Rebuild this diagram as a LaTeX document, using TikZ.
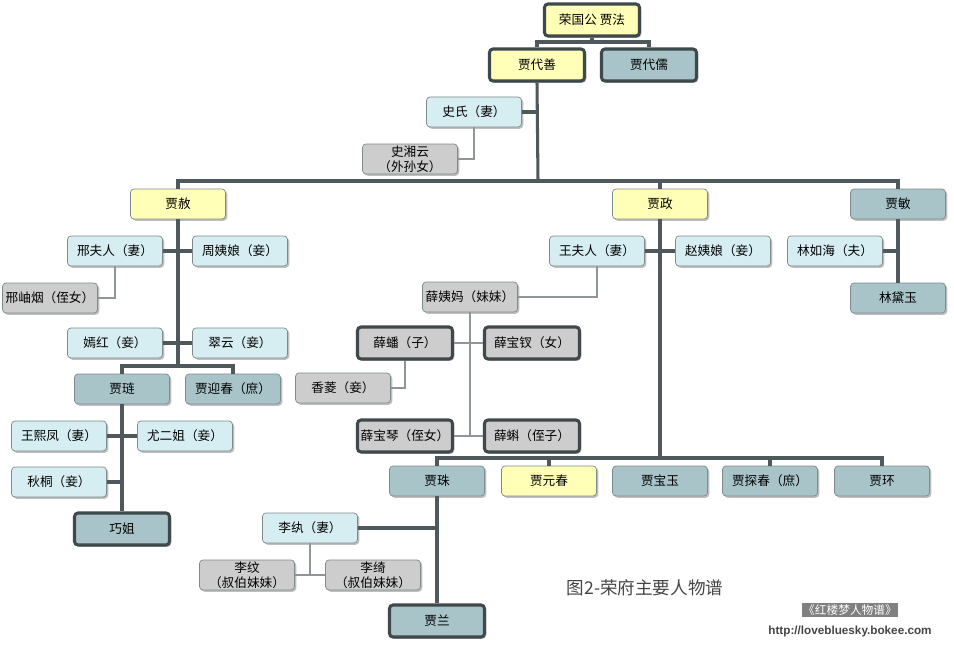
\documentclass[tikz,border=0pt]{standalone}
\usepackage{fontspec}
\setmainfont{Noto Sans CJK SC}
\newfontfamily\urlfont{Liberation Sans}
\usetikzlibrary{positioning,shadows,calc}
\definecolor{yelf}{HTML}{FFFFB8}
\definecolor{teaf}{HTML}{A8C4C8}
\definecolor{bluf}{HTML}{D6EEF2}
\definecolor{gryf}{HTML}{CDCDCD}
\definecolor{edgec}{HTML}{7E8A8C}
\definecolor{heavyc}{HTML}{3F484A}
\definecolor{trunkc}{HTML}{4F585A}
\definecolor{twigc}{HTML}{8E9698}
\definecolor{capc}{HTML}{454545}
\definecolor{tagc}{HTML}{808080}
\tikzset{
  box/.style={rounded corners=3pt, draw=edgec, line width=0.6pt, minimum width=2.85cm, minimum height=0.9cm, inner sep=1pt, font=\fontsize{10.8}{13}\selectfont, align=center, drop shadow={shadow xshift=1.5pt, shadow yshift=-1.5pt, fill=black, opacity=0.25}},
  heavy/.style={draw=heavyc, line width=2.6pt, minimum height=0.96cm},
  yel/.style={box, fill=yelf},
  tea/.style={box, fill=teaf},
  blu/.style={box, fill=bluf},
  gry/.style={box, fill=gryf},
  trunk/.style={draw=trunkc, line width=2.6pt},
  twig/.style={draw=twigc, line width=1.8pt},
}

\begin{document}
\begin{tikzpicture}[x=0.03cm,y=-0.03cm]
  \useasboundingbox (0,0) rectangle (954,647);
  \fill[white] (0,0) rectangle (954,647);

  \node[yel,heavy] (fa)  at (592,20) {荣国公 贾法};
  \node[yel,heavy] (dsh) at (537,65) {贾代善};
  \node[tea,heavy] (dru) at (649,65) {贾代儒};
  \node[blu] (shi)  at (474,112) {史氏（妻）};
  \node[gry] (xyun) at (410,159) {史湘云\\（外孙女）};

  \node[yel] (she)   at (178,204) {贾赦};
  \node[yel] (zheng) at (660,204) {贾政};
  \node[tea] (min)   at (898,204) {贾敏};

  \node[blu] (xing) at (115,251) {邢夫人（妻）};
  \node[blu] (zhou) at (240,251) {周姨娘（妾）};
  \node[gry] (xyan) at (50,298)  {邢岫烟（侄女）};
  \node[blu] (yanh) at (115,343) {嫣红（妾）};
  \node[blu] (cuiy) at (240,343) {翠云（妾）};
  \node[tea] (lian) at (122,389) {贾琏};
  \node[tea] (ying) at (233,389) {贾迎春（庶）};
  \node[blu] (wxf)  at (59,436)  {王熙凤（妻）};
  \node[blu] (you)  at (185,436) {尤二姐（妾）};
  \node[blu] (qiut) at (59,482)  {秋桐（妾）};
  \node[tea,heavy] (qiao) at (122,529) {巧姐};

  \node[blu] (wang) at (597,251) {王夫人（妻）};
  \node[blu] (zhao) at (723,251) {赵姨娘（妾）};
  \node[gry] (yima) at (470,297) {薛姨妈（妹妹）};
  \node[gry,heavy] (pan)  at (405,343) {薛蟠（子）};
  \node[gry,heavy] (chai) at (532,343) {薛宝钗（女）};
  \node[gry] (xlng) at (343,388) {香菱（妾）};
  \node[gry,heavy] (qin)  at (405,436) {薛宝琴（侄女）};
  \node[gry,heavy] (ke)   at (532,436) {薛蝌（侄子）};

  \node[tea] (zhu)  at (437,481) {贾珠};
  \node[yel] (yuan) at (549,481) {贾元春};
  \node[tea] (bao)  at (660,481) {贾宝玉};
  \node[tea] (tan)  at (770,481) {贾探春（庶）};
  \node[tea] (huan) at (882,481) {贾环};
  \node[blu] (lwan) at (310,528) {李纨（妻）};
  \node[gry] (lwen) at (247,575) {李纹\\（叔伯妹妹）};
  \node[gry] (lqi)  at (373,575) {李绮\\（叔伯妹妹）};
  \node[tea,heavy] (lan) at (437,621) {贾兰};

  \node[blu] (ru)  at (835,251) {林如海（夫）};
  \node[tea] (dai) at (898,298) {林黛玉};

  \coordinate (j1) at (592,42);
  \coordinate (jm) at (538,181);
  \coordinate (k1) at (178,366);
  \coordinate (k2) at (660,458);

  \draw[trunk] (fa.south) -- (j1);
  \draw[trunk] (dsh.north) |- (j1) -| (dru.north);
  \draw[trunk] (dsh.south) -- (jm);
  \draw[trunk] (she.north) |- (jm) -| (min.north);
  \draw[trunk] (zheng.north) -- (zheng.north |- jm);
  \draw[trunk] (shi.east) -- (shi.east -| dsh.south);
  \draw[twig] (shi.south) |- (xyun.east);

  \draw[trunk] (she.south) -- (k1);
  \draw[trunk] (lian.north) |- (k1) -| (ying.north);
  \draw[trunk] (xing.east) -- (zhou.west);
  \draw[trunk] (yanh.east) -- (cuiy.west);
  \draw[twig] (xing.south) |- (xyan.east);
  \draw[trunk] (lian.south) -- (qiao.north);
  \draw[trunk] (wxf.east) -- (you.west);
  \draw[trunk] (qiut.east) -- (qiut.east -| lian.south);

  \draw[trunk] (zheng.south) -- (k2);
  \draw[trunk] (zhu.north) |- (k2) -| (huan.north);
  \draw[trunk] (yuan.north) -- (yuan.north |- k2);
  \draw[trunk] (tan.north) -- (tan.north |- k2);
  \draw[trunk] (wang.east) -- (zhao.west);
  \draw[twig] (wang.south) |- (yima.east);
  \draw[twig] (yima.south) -- (yima.south |- qin.east);
  \draw[twig] (pan.east) -- (chai.west);
  \draw[twig] (qin.east) -- (ke.west);
  \draw[twig] (pan.south) |- (xlng.east);

  \draw[trunk] (zhu.south) -- (lan.north);
  \draw[trunk] (lwan.east) -- (lwan.east -| zhu.south);
  \draw[twig] (lwan.south) -- (lwan.south |- lwen.east);
  \draw[twig] (lwen.east) -- (lqi.west);

  \draw[trunk] (min.south) -- (dai.north);
  \draw[trunk] (ru.east) -- (ru.east -| min.south);

  \node[font=\fontsize{15}{17}\selectfont, text=capc] (cap) at (645,588) {图2-荣府主要人物谱};
  \node[fill=tagc, text=white, font=\fontsize{10}{11}\selectfont, inner sep=1pt] (tag) at (850,610) {《红楼梦人物谱》};
  \node[font=\urlfont\bfseries\fontsize{10}{11}\selectfont, text=capc] (url) at (850,631) {http://lovebluesky.bokee.com};
\end{tikzpicture}
\end{document}
